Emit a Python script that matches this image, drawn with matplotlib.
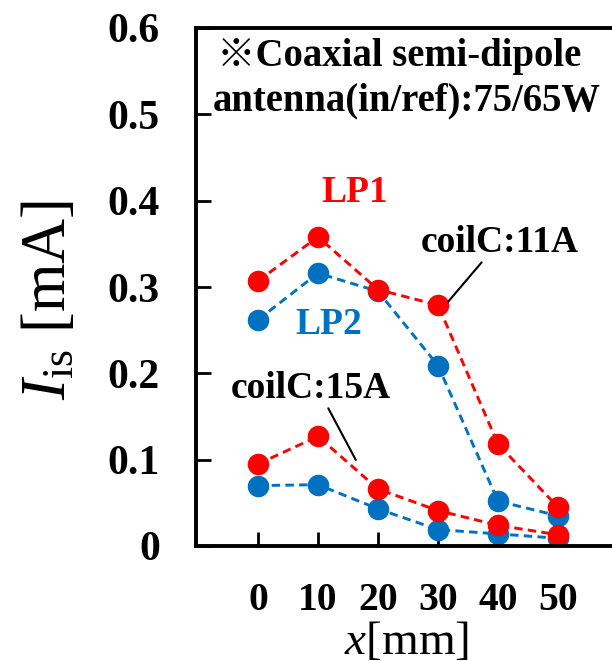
import matplotlib
matplotlib.use("Agg")
import matplotlib.pyplot as plt

# data
x_mm = [0, 10, 20, 30, 40, 50]
lp1_11a = [0.307, 0.358, 0.297, 0.279, 0.118, 0.045]
lp2_11a = [0.262, 0.316, 0.295, 0.209, 0.052, 0.035]
lp1_15a = [0.095, 0.127, 0.066, 0.041, 0.024, 0.013]
lp2_15a = [0.070, 0.071, 0.043, 0.019, 0.014, 0.009]
y_ticks = [0, 0.1, 0.2, 0.3, 0.4, 0.5, 0.6]
y_tick_labels = ["0", "0.1", "0.2", "0.3", "0.4", "0.5", "0.6"]

RED = "#FF0000"
BLUE = "#0070C0"

plt.rcParams["font.family"] = ["Liberation Serif", "Noto Sans CJK JP"]
plt.rcParams["mathtext.fontset"] = "custom"
plt.rcParams["mathtext.rm"] = "Liberation Serif"
plt.rcParams["mathtext.it"] = "Liberation Serif:italic"

fig = plt.figure(figsize=(6.12, 6.61), dpi=100)
ax = fig.add_axes([196 / 612, 1 - 546 / 661, (618 - 196) / 612, 518 / 661])

line_kw = dict(ls="--", lw=2.1, marker="o", ms=14.5, dashes=(2.9, 1.8))
for ys in (lp2_15a, lp2_11a):
    ax.plot(x_mm, ys, color=BLUE, **line_kw)
for ys in (lp1_15a, lp1_11a):
    ax.plot(x_mm, ys, color=RED, **line_kw)

ax.set_xlim(-10.33, 60)
ax.set_ylim(0, 0.6)
ax.set_xticks(x_mm)
ax.set_xticklabels([str(v) for v in x_mm], fontsize=28.5, fontweight="bold")
ax.set_yticks(y_ticks)
ax.set_yticklabels(y_tick_labels, fontsize=30, fontweight="bold")
ax.tick_params(axis="both", direction="in", width=2, pad=26)
ax.tick_params(axis="y", length=11)
ax.tick_params(axis="x", length=10)
for s in ax.spines.values():
    s.set_linewidth(2.8)

ax.set_ylabel(r"$I_{\mathrm{is}}$ [mA]", fontsize=45)
ax.yaxis.label.set_va("center")
ax.yaxis.set_label_coords(-0.345, 0.475)
ax.set_xlabel(r"$x$[mm]", fontsize=34)
ax.xaxis.set_label_coords(0.5, -0.145)

# header note
ax.text(-6.83, 0.556, "※Coaxial semi-dipole", fontsize=27.8, fontweight="bold", va="baseline")
ax.text(-7.5, 0.505, "antenna(in/ref):75/65W", fontsize=27.8, fontweight="bold", va="baseline")

ax.text(16.2, 0.410, "LP1", color=RED, fontsize=27, fontweight="bold", ha="center", va="center")
ax.text(11.8, 0.256, "LP2", color=BLUE, fontsize=27, fontweight="bold", ha="center", va="center")

ax.annotate("coilC:11A", xy=(31.7, 0.283), xytext=(40.3, 0.352), fontsize=27, fontweight="bold",
            ha="center", va="center",
            arrowprops=dict(arrowstyle="-", lw=1.5, color="black", shrinkA=0, shrinkB=0,
                            relpos=(0.4, 0.0)))
ax.annotate("coilC:15A", xy=(16.3, 0.0997), xytext=(8.8, 0.183), fontsize=27, fontweight="bold",
            ha="center", va="center",
            arrowprops=dict(arrowstyle="-", lw=1.5, color="black", shrinkA=0, shrinkB=0,
                            relpos=(0.6, 0.0)))

fig.savefig("out.png", dpi=100)
